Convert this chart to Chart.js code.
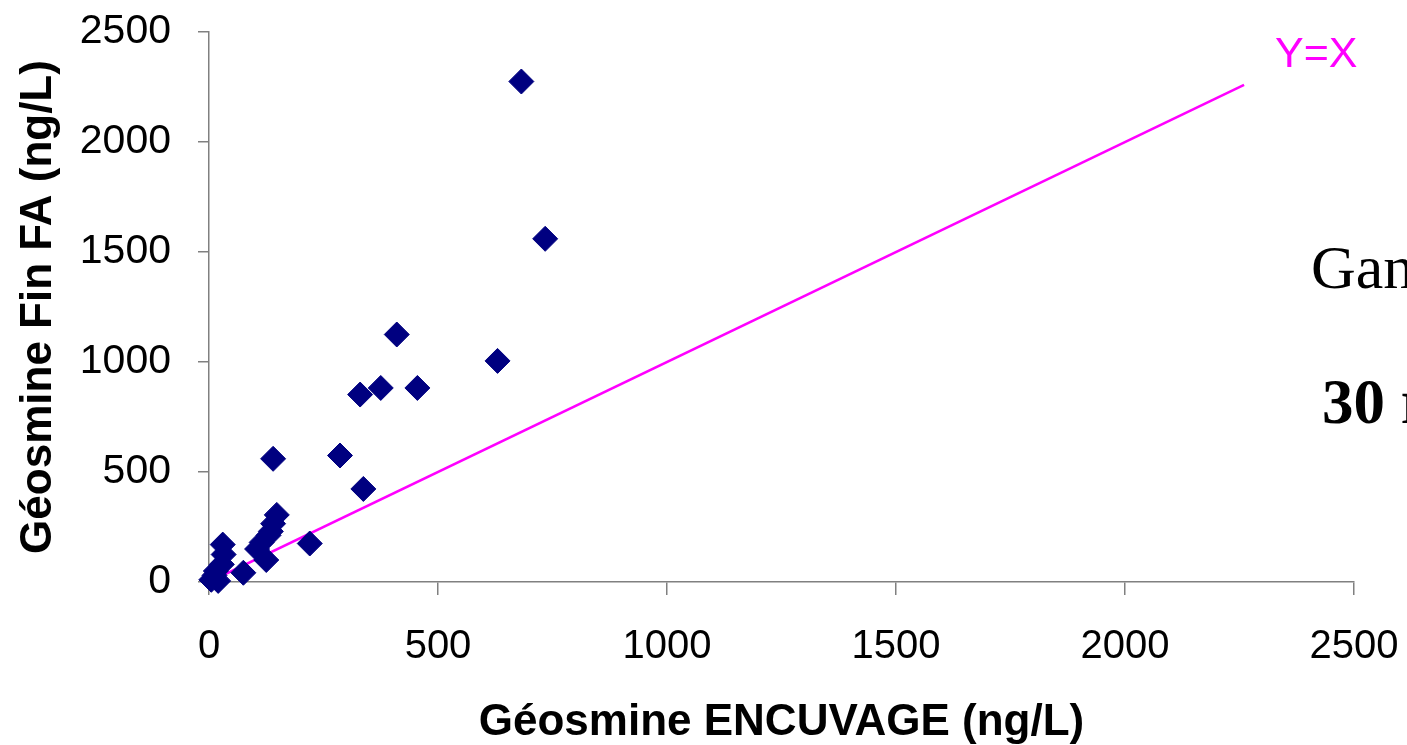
<!DOCTYPE html>
<html>
<head>
<meta charset="utf-8">
<title>Géosmine ENCUVAGE vs Fin FA</title>
<script src="https://cdn.jsdelivr.net/npm/chart.js@4.4.1/dist/chart.umd.min.js"></script>
<style>
  html, body { margin: 0; padding: 0; background: #fff; }
  #wrap { width: 1407px; height: 745px; position: relative; }
</style>
</head>
<body>
<div id="wrap"><canvas id="mainChart"></canvas></div>
<script>
// Valeurs (ng/L)
const encuvage = [5, 12, 20, 15, 28, 32, 30, 75, 105, 115, 125, 130, 135, 140, 148, 140, 220, 286, 337, 330, 375, 410, 455, 630, 682, 734];
const finFA    = [10, 30, 5, 50, 80, 125, 170, 42, 150, 180, 100, 212, 230, 265, 305, 560, 175, 575, 423, 852, 882, 1125, 882, 1005, 2275, 1560];

// Droite Y=X
const lineX = [0, 2260];
const lineY = [0, 2260];

const axisTicks = [0, 500, 1000, 1500, 2000, 2500];

const SANS = "'Liberation Sans', Arial, sans-serif";
const SERIF = "'Liberation Serif', 'Times New Roman', serif";

Chart.defaults.font.family = SANS;
Chart.defaults.color = '#000';

const scatterPts = encuvage.map((x, i) => ({ x: x, y: finFA[i] }));
const linePts = lineX.map((x, i) => ({ x: x, y: lineY[i] }));

// pas de marge auto pour les étiquettes, la zone du graphe est fixée par layout.padding
function noScalePadding(s) {
    s.paddingTop = 0;
    s.paddingBottom = 0;
    s.paddingLeft = 0;
    s.paddingRight = 0;
}

// textes annexes (étiquette Y=X et texte coupé à droite)
const sideText = {
    id: 'sideText',
    afterDraw(chart) {
        const c = chart.ctx;
        c.save();
        c.textBaseline = 'alphabetic';
        c.textAlign = 'left';
        c.fillStyle = '#ff00ff';
        c.font = "43px " + SANS;
        c.fillText('Y=X', 1275, 67);
        c.fillStyle = '#000';
        c.font = "62px " + SERIF;
        c.fillText('Gan', 1311, 288);
        c.font = "bold 63px " + SERIF;
        c.fillText('30 r', 1322, 423);
        c.restore();
    }
};

const ctx = document.getElementById('mainChart').getContext('2d');
new Chart(ctx, {
    type: 'scatter',
    data: {
        datasets: [
            {
                label: 'Géosmine',
                data: scatterPts,
                pointStyle: 'rectRot',
                pointRadius: 12.5,
                pointHoverRadius: 12.5,
                backgroundColor: '#000080',
                borderColor: '#000080',
                borderWidth: 1,
                clip: false
            },
            {
                label: 'Y=X',
                type: 'line',
                data: linePts,
                borderColor: '#ff00ff',
                borderWidth: 2.5,
                pointRadius: 0,
                fill: false
            }
        ]
    },
    options: {
        responsive: true,
        maintainAspectRatio: false,
        animation: false,
        events: [],
        layout: { padding: { top: 32, right: 53, left: 0, bottom: 0 } },
        plugins: {
            legend: { display: false },
            tooltip: { enabled: false }
        },
        scales: {
            x: {
                type: 'linear',
                min: 0,
                max: 2500,
                afterBuildTicks: s => { s.ticks = axisTicks.map(v => ({ value: v })); },
                afterFit: s => { s.height = 163; noScalePadding(s); },
                ticks: { font: { size: 40 }, padding: 28, maxRotation: 0, callback: v => String(v) },
                grid: { drawOnChartArea: false, color: '#808080', tickLength: 13, lineWidth: 1.5 },
                border: { color: '#808080', width: 1.5 },
                title: {
                    display: true,
                    text: 'Géosmine ENCUVAGE (ng/L)',
                    font: { size: 44, weight: 'bold', lineHeight: 1.0 },
                    padding: { top: 0, bottom: 0 }
                }
            },
            y: {
                type: 'linear',
                min: 0,
                max: 2500,
                afterBuildTicks: s => { s.ticks = axisTicks.map(v => ({ value: v })); },
                afterFit: s => { s.width = 209; noScalePadding(s); },
                ticks: { font: { size: 41 }, padding: 27, callback: v => String(v) },
                grid: { drawOnChartArea: false, color: '#808080', tickLength: 11, lineWidth: 1.5 },
                border: { color: '#808080', width: 1.5 },
                title: {
                    display: true,
                    text: 'Géosmine Fin FA (ng/L)',
                    font: { size: 44, weight: 'bold' },
                    padding: { top: 12, bottom: 0 }
                }
            }
        }
    },
    plugins: [sideText]
});
</script>
</body>
</html>
